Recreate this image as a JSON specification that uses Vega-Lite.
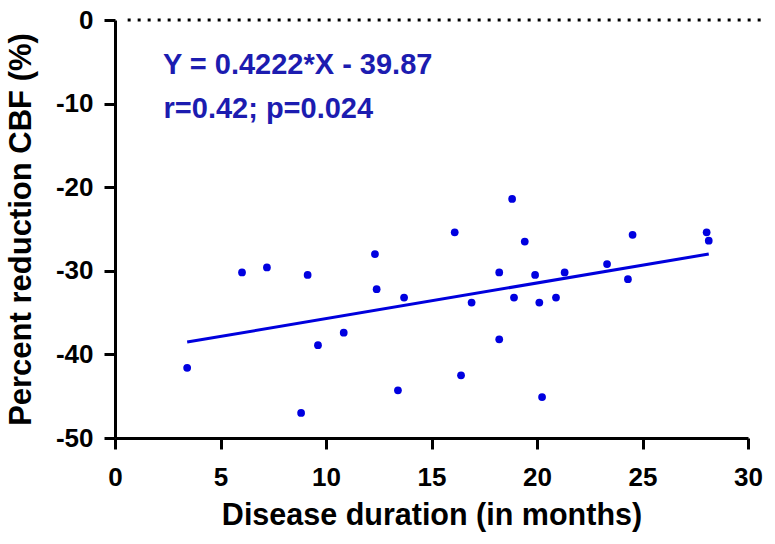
{
  "$schema": "https://vega.github.io/schema/vega-lite/v6.json",
  "autosize": "none",
  "width": 633,
  "height": 418,
  "padding": {"left": 115, "top": 20, "right": 27, "bottom": 106},
  "background": "white",
  "config": {
    "view": {"stroke": null},
    "font": "Liberation Sans"
  },
  "datasets": {
    "pts": [
      {"duration": 3.42, "reduction": -41.6},
      {"duration": 6.02, "reduction": -30.2},
      {"duration": 7.2, "reduction": -29.6},
      {"duration": 9.13, "reduction": -30.5},
      {"duration": 8.82, "reduction": -47.0},
      {"duration": 9.62, "reduction": -38.9},
      {"duration": 10.84, "reduction": -37.4},
      {"duration": 12.32, "reduction": -28.0},
      {"duration": 12.4, "reduction": -32.2},
      {"duration": 13.7, "reduction": -33.2},
      {"duration": 13.41, "reduction": -44.3},
      {"duration": 16.1, "reduction": -25.4},
      {"duration": 16.4, "reduction": -42.5},
      {"duration": 16.9, "reduction": -33.8},
      {"duration": 18.21, "reduction": -30.2},
      {"duration": 18.21, "reduction": -38.2},
      {"duration": 18.82, "reduction": -21.4},
      {"duration": 18.91, "reduction": -33.2},
      {"duration": 19.42, "reduction": -26.5},
      {"duration": 19.91, "reduction": -30.5},
      {"duration": 20.11, "reduction": -33.8},
      {"duration": 20.24, "reduction": -45.1},
      {"duration": 20.9, "reduction": -33.2},
      {"duration": 21.31, "reduction": -30.2},
      {"duration": 23.32, "reduction": -29.2},
      {"duration": 24.31, "reduction": -31.0},
      {"duration": 24.53, "reduction": -25.7},
      {"duration": 28.04, "reduction": -25.4},
      {"duration": 28.14, "reduction": -26.4}
    ],
    "notes": [
      {"x": 2.27, "y": -6.5, "label": "Y = 0.4222*X - 39.87"},
      {"x": 2.3, "y": -11.7, "label": "r=0.42; p=0.024"}
    ],
    "zero": [{"x1": 0.6, "x2": 30.9, "y": 0}]
  },
  "layer": [
    {
      "data": {"name": "zero"},
      "mark": {"type": "rule", "color": "black", "strokeWidth": 3, "strokeDash": [3, 7], "clip": false},
      "encoding": {
        "x": {"field": "x1", "type": "quantitative"},
        "x2": {"field": "x2"},
        "y": {"field": "y", "type": "quantitative"}
      }
    },
    {
      "data": {"name": "pts"},
      "mark": {"type": "point", "filled": true, "color": "#0000e0", "size": 60, "opacity": 1},
      "encoding": {
        "x": {
          "field": "duration", "type": "quantitative",
          "scale": {"domain": [0, 30], "nice": false, "zero": false},
          "axis": {
            "values": [0, 5, 10, 15, 20, 25, 30],
            "labelExpr": "'' + datum.value",
            "title": "Disease duration (in months)",
            "titleFont": "Liberation Sans", "titleFontSize": 30.5, "titleFontWeight": "bold", "titleColor": "black",
            "titlePadding": 10,
            "labelFont": "Liberation Sans", "labelFontSize": 26, "labelFontWeight": "bold", "labelColor": "black",
            "labelPadding": 15,
            "domainColor": "black", "domainWidth": 3, "tickColor": "black", "tickWidth": 3, "tickSize": 11,
            "grid": false, "labelFlush": false
          }
        },
        "y": {
          "field": "reduction", "type": "quantitative",
          "scale": {"domain": [-50, 0], "nice": false},
          "axis": {
            "values": [-50, -40, -30, -20, -10, 0],
            "labelExpr": "'' + datum.value",
            "title": "Percent reduction CBF (%)",
            "titleFont": "Liberation Sans", "titleFontSize": 31, "titleFontWeight": "bold", "titleColor": "black",
            "titlePadding": 18,
            "labelFont": "Liberation Sans", "labelFontSize": 26, "labelFontWeight": "bold", "labelColor": "black",
            "labelPadding": 11,
            "domainColor": "black", "domainWidth": 3, "tickColor": "black", "tickWidth": 3, "tickSize": 11,
            "grid": false, "labelFlush": false
          }
        }
      }
    },
    {
      "data": {"name": "pts"},
      "transform": [{"regression": "reduction", "on": "duration", "extent": [3.42, 28.14]}],
      "mark": {"type": "line", "color": "#0000dd", "strokeWidth": 3},
      "encoding": {
        "x": {"field": "duration", "type": "quantitative"},
        "y": {"field": "reduction", "type": "quantitative"}
      }
    },
    {
      "data": {"name": "notes"},
      "mark": {"type": "text", "align": "left", "baseline": "alphabetic", "font": "Liberation Sans", "fontSize": 29, "fontWeight": "bold", "color": "#1c1cb0"},
      "encoding": {
        "x": {"field": "x", "type": "quantitative"},
        "y": {"field": "y", "type": "quantitative"},
        "text": {"field": "label"}
      }
    }
  ]
}
